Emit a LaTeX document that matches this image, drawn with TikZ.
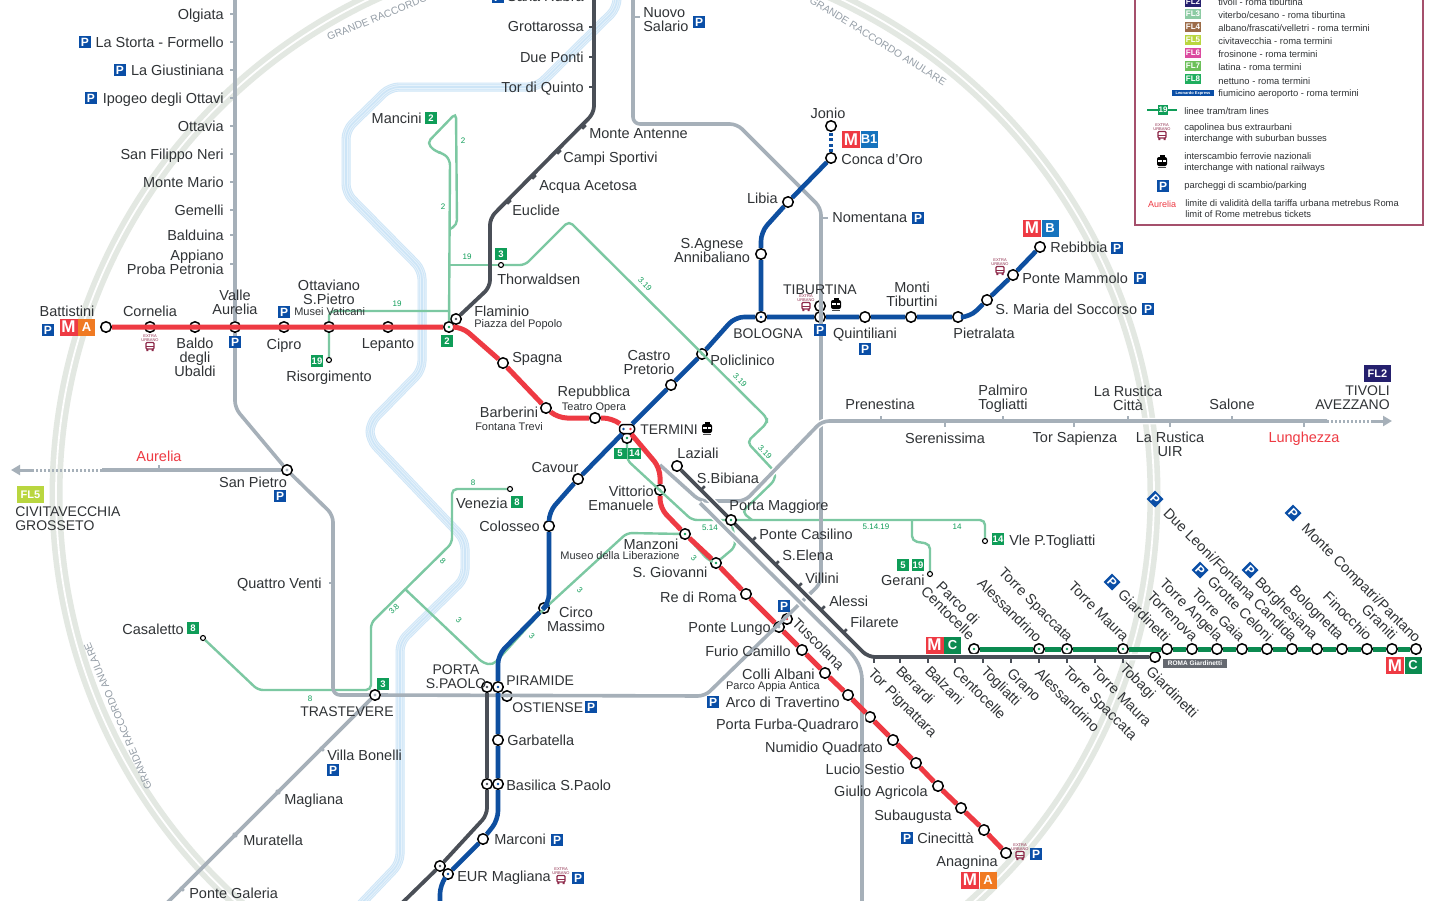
\documentclass[tikz,border=0pt]{standalone}
\usepackage{fontspec}
\setmainfont{Liberation Sans}
\usetikzlibrary{positioning, arrows.meta}
\definecolor{ringcol}{HTML}{E3E8E2}
\definecolor{rivera}{HTML}{CDE5F7}
\definecolor{riverb}{HTML}{E6F2FB}
\definecolor{greycol}{HTML}{A6B0B9}
\definecolor{darkcol}{HTML}{4A4F57}
\definecolor{redcol}{HTML}{EE3A43}
\definecolor{orangecol}{HTML}{F07A22}
\definecolor{bluecol}{HTML}{0E4FA0}
\definecolor{b1col}{HTML}{1573BE}
\definecolor{ccol}{HTML}{0B8A50}
\definecolor{tramcol}{HTML}{7CC8A2}
\definecolor{trambadge}{HTML}{0F9D58}
\definecolor{pcol}{HTML}{0A4EA6}
\definecolor{labcol}{HTML}{303336}
\definecolor{busred}{HTML}{8E2A4A}
\definecolor{legendcol}{HTML}{A5506C}
\definecolor{fltwo}{HTML}{25206E}
\definecolor{flthree}{HTML}{8CCBA3}
\definecolor{flfour}{HTML}{9C6B47}
\definecolor{flfive}{HTML}{B9D63F}
\definecolor{flsix}{HTML}{DB4A9F}
\definecolor{flseven}{HTML}{6CC05A}
\definecolor{fleight}{HTML}{1FAE5E}
\newcommand{\labfont}{\fontsize{14.5}{14}\selectfont}
\newcommand{\capsfont}{\fontsize{14}{14}\selectfont}
\newcommand{\smallfont}{\fontsize{11}{11}\selectfont}
\newcommand{\legfont}{\fontsize{9.4}{11}\selectfont}
\newcommand{\riverpath}{(617,-5) -- (617,8) -- (537,87) -- (390,87) -- (346,130) -- (346,193) -- (422,270) -- (422,370) -- (370,423) -- (370,440) -- (465,540) -- (465,578) -- (400,642) -- (400,863) -- (360,905)}
\begin{document}
\begin{tikzpicture}[x=1pt, y=-1pt, semithick]
    \tikzstyle{stop}=[circle, draw=black, fill=white, line width=1.5pt, minimum size=10.5pt, inner sep=0pt]
    \tikzstyle{dotg}=[path picture={\fill[trambadge] (path picture bounding box.center) circle (1.4pt);}]
    \tikzstyle{dotb}=[path picture={\fill[bluecol] (path picture bounding box.center) circle (1.4pt);}]
    \tikzstyle{dotk}=[path picture={\fill[darkcol] (path picture bounding box.center) circle (1.4pt);}]
    \tikzstyle{dotr}=[path picture={\fill[redcol] (path picture bounding box.center) circle (1.4pt);}]
    \tikzstyle{dotn}=[path picture={\fill[greycol] (path picture bounding box.center) circle (1.6pt);}]
    \tikzstyle{mini}=[circle, draw=black, fill=white, line width=1.1pt, minimum size=5pt, inner sep=0pt]
    \tikzstyle{tickg}=[fill=greycol, minimum width=5pt, minimum height=2.6pt, inner sep=0pt]
    \tikzstyle{tickd}=[fill=darkcol, minimum width=5pt, minimum height=2.6pt, inner sep=0pt]
    \tikzstyle{lab}=[font=\labfont, text=labcol, inner sep=0pt, text height=14pt, text depth=3pt]
    \tikzstyle{lablock}=[font=\labfont, text=labcol, inner sep=0pt, align=center]
    \tikzstyle{labrot}=[lab, rotate=-45]
    \tikzstyle{small}=[font=\smallfont, text=labcol, inner sep=0pt, text height=10pt, text depth=2pt]
    \tikzstyle{redlab}=[lab, text=redcol]
    \tikzstyle{pbox}=[fill=pcol, text=white, font=\fontsize{12}{12}\selectfont\bfseries, minimum size=12pt, inner sep=0pt]
    \tikzstyle{tbox}=[fill=trambadge, text=white, font=\fontsize{9.5}{9.5}\selectfont\bfseries, minimum width=12pt, minimum height=12pt, inner sep=0pt]
    \tikzstyle{tnum}=[text=trambadge, font=\fontsize{8}{8}\selectfont, inner sep=0pt]
    \tikzstyle{mbox}=[fill=redcol, text=white, font=\fontsize{17}{17}\selectfont\bfseries, minimum width=18pt, minimum height=17pt, inner sep=0pt]
    \tikzstyle{lbox}=[text=white, font=\fontsize{13}{13}\selectfont\bfseries, minimum width=17pt, minimum height=17pt, inner sep=0pt]
    \tikzstyle{flbox}=[text=white, font=\fontsize{8}{8}\selectfont\bfseries, minimum width=16pt, minimum height=10pt, inner sep=0pt]
    \tikzstyle{legtxt}=[font=\legfont, text=labcol, inner sep=0pt, anchor=west, align=left]
    \tikzstyle{ringlab}=[font=\fontsize{10.3}{10.3}\selectfont, text=greycol!90!black, inner sep=0pt]
    \tikzstyle{lineg}=[greycol, line width=3.6pt, rounded corners=7pt]
    \tikzstyle{cased}=[preaction={draw=white, line width=6.5pt}]
    \tikzstyle{lined}=[darkcol, line width=3.8pt, rounded corners=7pt]
    \tikzstyle{linea}=[redcol, line width=5pt, rounded corners=9pt]
    \tikzstyle{lineb}=[bluecol, line width=4.6pt, rounded corners=9pt]
    \tikzstyle{linec}=[ccol, line width=5pt]
    \tikzstyle{tram}=[tramcol, line width=2.4pt, rounded corners=5pt]
    \tikzset{
      busicon/.pic={
        \node[font=\fontsize{4}{4}\selectfont, text=busred, align=center, inner sep=0pt] (-txt) at (0,-5.5) {EXTRA\\URBANO};
        \draw[busred, line width=1.1pt, rounded corners=1pt] (-4,-1.5) rectangle (4,5);
        \draw[busred, line width=1pt] (-4,2) -- (4,2);
        \fill[busred] (-3.6,5) rectangle (-1.6,7) (1.6,5) rectangle (3.6,7);
      },
      trainicon/.pic={
        \fill[black, rounded corners=2pt] (-5,-4) rectangle (5,5);
        \fill[black] (-2.5,-6) rectangle (2.5,-4);
        \fill[white] (-3.6,-1.5) rectangle (3.6,1);
        \fill[black] (-0.5,-1.5) rectangle (0.5,1);
        \fill[black!70] (-3.8,6) rectangle (3.8,7);
      }
    }
    \useasboundingbox (0,0) rectangle (1440,900);
    \clip (0,0) rectangle (1440,900);
    \fill[white] (0,0) rectangle (1440,900);

    % ring road and river
    \draw[ringcol, line width=13pt] (605,495) circle (549);
    \draw[white, line width=1.8pt] (605,495) circle (549);
    \node[ringlab, rotate=22] (ringa) at (401,8) {GRANDE RACCORDO ANULARE};
    \node[ringlab, rotate=-32] (ringb) at (878,41) {GRANDE RACCORDO ANULARE};
    \node[ringlab, rotate=113] (ringc) at (118,716) {GRANDE RACCORDO ANULARE};
    \foreach \w/\c in {9/rivera, 7.2/riverb, 5.4/rivera, 3.6/riverb, 1.6/rivera}
      \draw[\c, line width=\w pt, rounded corners=9pt] \riverpath;

    % stations of line A
    \node[stop] (battistini) at (106,327) {};
    \node[stop] (cornelia) at (150,327) {};
    \node[stop] (baldo) at (195,327) {};
    \node[stop, dotn] (vaurelia) at (235,327) {};
    \node[stop] (cipro) at (284,327) {};
    \node[stop, dotg] (ottaviano) at (329,327) {};
    \node[stop] (lepanto) at (388,327) {};
    \node[stop, dotg] (flaminio) at (449,327) {};
    \node[stop] (spagna) at (503,363) {};
    \node[stop] (barberini) at (546,408) {};
    \node[stop] (repubblica) at (595,418) {};
    \node[stop, dotg] (vittorio) at (660,490) {};
    \node[stop, dotg] (manzoni) at (685,534) {};
    \node[stop, dotg] (sgiovanni) at (716,563) {};
    \node[stop] (rediroma) at (746,594) {};
    \node[stop, dotn] (pontelungo) at (779,627) {};
    \node[stop] (furio) at (802,650) {};
    \node[stop] (colli) at (825,673) {};
    \node[stop] (arco) at (848,695) {};
    \node[stop] (furba) at (870,717) {};
    \node[stop] (numidio) at (893,740) {};
    \node[stop] (lucio) at (916,763) {};
    \node[stop] (giulio) at (938,786) {};
    \node[stop] (subaugusta) at (961,808) {};
    \node[stop] (cinecitta) at (984,830) {};
    \node[stop] (anagnina) at (1006,853) {};

    % stations of line B
    \node[stop] (rebibbia) at (1040,247) {};
    \node[stop] (mammolo) at (1013,275) {};
    \node[stop] (soccorso) at (987,300) {};
    \node[stop] (pietralata) at (958,317) {};
    \node[stop] (monti) at (911,317) {};
    \node[stop] (quintiliani) at (865,317) {};
    \node[stop, dotb] (tiburtina) at (820,317) {};
    \node[stop, dotn] (tiburtinafs) at (820,306) {};
    \node[stop, dotb] (bologna) at (761,317) {};
    \node[stop, dotg] (policlinico) at (702,354) {};
    \node[stop] (castro) at (671,385) {};
    \node[stop] (cavour) at (578,479) {};
    \node[stop] (colosseo) at (549,526) {};
    \node[stop, dotg] (circo) at (544,608) {};
    \node[stop, dotb] (piramide) at (498,687) {};
    \node[stop, dotn] (ostiense) at (507,696) {};
    \node[stop] (garbatella) at (498,740) {};
    \node[stop, dotb] (basilica) at (498,784) {};
    \node[stop] (marconi) at (483,839) {};
    \node[stop, dotb] (eur) at (448,874) {};
    \node[stop] (agnese) at (761,254) {};
    \node[stop] (libia) at (788,202) {};
    \node[stop] (concadoro) at (831,158) {};
    \node[stop] (jonio) at (831,126) {};

    % stations of line C
    \node[stop, dotg] (parco) at (974,649) {};
    \node[stop, dotg] (alessandrino) at (1039,649) {};
    \node[stop, dotg] (spaccata) at (1067,649) {};
    \node[stop, dotg] (maura) at (1123,649) {};
    \node[stop] (giardinetti) at (1167,649) {};
    \node[stop] (torrenova) at (1192,649) {};
    \node[stop] (angela) at (1217,649) {};
    \node[stop] (gaia) at (1242,649) {};
    \node[stop] (celoni) at (1267,649) {};
    \node[stop] (candida) at (1292,649) {};
    \node[stop] (borghesiana) at (1317,649) {};
    \node[stop] (bolognetta) at (1342,649) {};
    \node[stop] (finocchio) at (1367,649) {};
    \node[stop] (graniti) at (1392,649) {};
    \node[stop] (compatri) at (1416,649) {};

    % other stations
    \node[stop, dotk] (flaminiorl) at (456,319) {};
    \node[stop, dotn] (sanpietro) at (287,470) {};
    \node[stop, dotn] (trastevere) at (375,695) {};
    \node[stop, dotk] (pspaolo) at (487,687) {};
    \node[stop, dotk] (basilicarl) at (487,784) {};
    \node[stop, dotk] (torvalle) at (440,866) {};
    \node[stop] (laziali) at (677,466) {};
    \node[stop, dotr] (tuscolana) at (787,619) {};
    \node[stop] (giardrl) at (1155,657) {};
    \node[stop, dotg] (terminit) at (627,438) {};
    \node[draw=black, fill=white, line width=1.5pt, rounded corners=3.5pt, minimum width=15pt, minimum height=9pt, inner sep=0pt,
      path picture={\fill[bluecol] (-3.5,0) circle (1.4pt); \fill[redcol] (3.5,0) circle (1.4pt);}] (termini) at (627,429) {};
    \node[mini] (venezia) at (510,489) {};
    \node[mini] (casaletto) at (203,638) {};
    \node[mini] (risorgimento) at (329,360) {};
    \node[mini] (thorwaldsen) at (501,265) {};
    \node[mini] (gerani) at (930,574) {};
    \node[mini] (togliatti) at (985,541) {};

    % free ends and junctions
    \coordinate (vitTop) at (594,-5);
    \coordinate (fl3Top) at (235,-5);
    \coordinate (fl1Top) at (633,-5);
    \coordinate (fl1Bot) at (167,903);
    \coordinate (lidoBot) at (400,905);
    \coordinate (gBot) at (862,905);
    \coordinate (gJoin) at (660,465);
    \coordinate (gStart) at (700,503);
    \coordinate (eurBot) at (440,905);
    \coordinate (awest) at (102,470);
    \coordinate (awestb) at (33,470);
    \coordinate (awestc) at (11,470);
    \coordinate (aeast) at (1327,421);
    \coordinate (aeastb) at (1371,421);
    \coordinate (aeastc) at (1392,421);
    \coordinate (mancinitip) at (456,113);
    \coordinate (j19) at (450,311);
    \coordinate (j3) at (405,589);
    \coordinate (j319) at (752,520);
    \coordinate (j514) at (912,520);
    \coordinate (jlink) at (450,229);
    \coordinate (jthor) at (450,265);
    \coordinate (pmjoint) at (731,520);

    % tram lines
    \draw[tram] (risorgimento) -- (ottaviano) -- (329,311) -- (j19);
    \draw[tram] (flaminio) -- (450,160) -- (443,153) -- (436,152) -- (427,143) -- (mancinitip) -- (457,225) -- (jlink);
    \draw[tram] (jthor) -- (thorwaldsen);
    \draw[tram] (thorwaldsen) -- (525,265) -- (569,221) -- (767,418) -- (767,423) -- (747,442) -- (775,472) -- (775,480) -- (742,512) -- (j319);
    \draw[tram] (terminit) -- (627,460) -- (692,520) -- (pmjoint) -- (985,520) -- (togliatti);
    \draw[tram] (j514) -- (912,541) -- (930,544) -- (gerani);
    \draw[tram] (venezia) -- (452,489) -- (452,543) -- (371,623) -- (371,690) -- (258,690) -- (casaletto);
    \draw[tram] (j3) -- (483,663) -- (493,665) -- (543,610) -- (627,533) -- (manzoni);
    \draw[tram] (manzoni) -- (708,560) -- (sgiovanni);
    \draw[tram] (sgiovanni) -- (735,547) -- (735,540) -- (pmjoint);

    % railways
    \draw[lineg] (fl3Top) -- (vaurelia) -- (235,408) -- (sanpietro) -- (333,515) -- (333,695) -- (trastevere);
    \draw[lineg] (fl1Top) -- (633,124) -- (737,124) -- (821,208) -- (821,583) -- (705,696) -- (trastevere);
    \draw[lineg] (trastevere) -- (fl1Bot);
    \draw[lineg, cased] (aeast) -- (822,421) -- (745,501) -- (700,501) -- (gJoin);
    \draw[lineg, cased] (gStart) -- (855,657) -- (862,672) -- (gBot);
    \draw[lineg, line width=3pt, dash pattern=on 2pt off 2pt] (aeast) -- (aeastb);
    \draw[lineg, -{Triangle[length=9pt,width=10pt]}, line width=3pt] (aeastb) -- (aeastc);
    \draw[lineg] (sanpietro) -- (awest);
    \draw[lineg, line width=3pt, dash pattern=on 2pt off 2pt] (awest) -- (awestb);
    \draw[lineg, -{Triangle[length=9pt,width=10pt]}, line width=3pt] (awestb) -- (awestc);
    \draw[lined] (vitTop) -- (594,113) -- (490,218) -- (490,287) -- (flaminiorl);
    \draw[lined] (pspaolo) -- (basilicarl) -- (487,815) -- (torvalle) -- (lidoBot);
    \draw[lined, cased] (laziali) -- (868,657) -- (giardrl);

    % metro lines
    \draw[linea] (battistini) -- (flaminio) -- (462,327) -- (spagna) -- (barberini) -- (558,418) -- (repubblica) -- (612,418) -- (termini);
    \draw[linea] (termini) -- (660,468) -- (vittorio) -- (660,508) -- (manzoni) -- (sgiovanni) -- (rediroma) -- (pontelungo) -- (furio) -- (colli) -- (arco) -- (furba) -- (numidio) -- (lucio) -- (giulio) -- (subaugusta) -- (cinecitta) -- (anagnina);
    \draw[lineb] (rebibbia) -- (mammolo) -- (soccorso) -- (970,317) -- (pietralata) -- (monti) -- (quintiliani) -- (tiburtina) -- (bologna) -- (735,317) -- (policlinico) -- (castro) -- (termini);
    \draw[lineb] (termini) -- (cavour) -- (549,512) -- (colosseo) -- (549,603) -- (circo) -- (498,655) -- (piramide) -- (garbatella) -- (basilica) -- (498,820) -- (marconi) -- (eur) -- (440,885) -- (eurBot);
    \draw[lineb] (bologna) -- (agnese) -- (761,232) -- (libia) -- (concadoro);
    \draw[lineb, dash pattern=on 3pt off 2.5pt, line width=3.6pt] (concadoro) -- (jonio);
    \draw[linec] (parco) -- (alessandrino) -- (spaccata) -- (maura) -- (giardinetti) -- (torrenova) -- (angela) -- (gaia) -- (celoni) -- (candida) -- (borghesiana) -- (bolognetta) -- (finocchio) -- (graniti) -- (compatri);

    % Porta Maggiore on top of the lines
    \node[stop, dotg] (pmaggiore) at (731,520) {};

    % ticks
    \node[tickg] (olgiata) at (232,14) {};
    \node[tickg] (storta) at (232,42) {};
    \node[tickg] (giustiniana) at (232,70) {};
    \node[tickg] (ipogeo) at (232,98) {};
    \node[tickg] (ottavia) at (232,126) {};
    \node[tickg] (filippo) at (232,154) {};
    \node[tickg] (mario) at (232,182) {};
    \node[tickg] (gemelli) at (232,210) {};
    \node[tickg] (balduina) at (232,235) {};
    \node[tickg] (appiano) at (232,264) {};
    \node[tickg] (salario) at (637,17) {};
    \node[tickg] (nomentana) at (825,218) {};
    \node[tickg] (quattro) at (331,583) {};
    \node[tickg, rotate=90] (aurelia) at (159,467) {};
    \node[tickg, rotate=-45] (bonelli) at (322,749) {};
    \node[tickg, rotate=-45] (magliana) at (278,792) {};
    \node[tickg, rotate=-45] (muratella) at (235,835) {};
    \node[tickg, rotate=-45] (galeria) at (182,889) {};
    \node[tickg, rotate=90] (prenestina) at (881,418) {};
    \node[tickg, rotate=90] (serenissima) at (945,424) {};
    \node[tickg, rotate=90] (palmiro) at (1003,418) {};
    \node[tickg, rotate=90] (sapienza) at (1074,424) {};
    \node[tickg, rotate=90] (citta) at (1128,418) {};
    \node[tickg, rotate=90] (uir) at (1170,424) {};
    \node[tickg, rotate=90] (salone) at (1232,418) {};
    \node[tickg, rotate=90] (lunghezza) at (1304,424) {};
    \node[tickd] (grottarossa) at (591,27) {};
    \node[tickd] (dueponti) at (591,57) {};
    \node[tickd] (quinto) at (591,87) {};
    \node[tickd, rotate=45] (antenne) at (584,127) {};
    \node[tickd, rotate=45] (sportivi) at (559,152) {};
    \node[tickd, rotate=45] (acetosa) at (534,177) {};
    \node[tickd, rotate=45] (euclide) at (509,202) {};
    \node[tickd, rotate=45] (bibiana) at (703,488) {};
    \node[tickd, rotate=45] (casilino) at (754,539) {};
    \node[tickd, rotate=45] (selena) at (777,563) {};
    \node[tickd, rotate=45] (villini) at (800,585) {};
    \node[tickd, rotate=45] (alessi) at (823,608) {};
    \node[tickd, rotate=45] (filarete) at (845,631) {};
    \node[tickd, rotate=90] (pignattara) at (874,660) {};
    \node[tickd, rotate=90] (berardi) at (900,660) {};
    \node[tickd, rotate=90] (balzani) at (928,660) {};
    \node[tickd, rotate=90] (centocelle) at (955,660) {};
    \node[tickd, rotate=90] (togliattirl) at (983,660) {};
    \node[tickd, rotate=90] (grano) at (1011,660) {};
    \node[tickd, rotate=90] (alessrl) at (1039,660) {};
    \node[tickd, rotate=90] (spaccrl) at (1067,660) {};
    \node[tickd, rotate=90] (maurarl) at (1095,660) {};
    \node[tickd, rotate=90] (tobagi) at (1123,660) {};

    % labels, line A
    \node[lab] (lbattistini) at (67,311) {Battistini};
    \node[pbox] (pbattistini) at (48,330) {P};
    \node[mbox] (mbattistini) at (68.5,327) {M};
    \node[lbox, fill=orangecol, right=0pt of mbattistini] (abattistini) {A};
    \node[lab] (lcornelia) at (150,311) {Cornelia};
    \pic (bcornelia) at (150,344) {busicon};
    \node[lablock] (lbaldo) at (195,357) {Baldo\\degli\\Ubaldi};
    \node[lablock] (lvaurelia) at (235,302) {Valle\\Aurelia};
    \node[pbox] (pvaurelia) at (235,342) {P};
    \node[lab] (lcipro) at (284,344) {Cipro};
    \node[lablock] (lottaviano) at (329,292) {Ottaviano\\S.Pietro};
    \node[small, anchor=west] (lmusei) at (294,311) {Musei Vaticani};
    \node[pbox] (pmusei) at (284,312) {P};
    \node[lab] (llepanto) at (388,343) {Lepanto};
    \node[lab] (lrisorgimento) at (329,376) {Risorgimento};
    \node[tbox] (trisorgimento) at (317,361) {19};
    \node[tbox] (tflaminio) at (447,341) {2};
    \node[lab, anchor=west] (lflaminio) at (474,311) {Flaminio};
    \node[small, anchor=west] (lpopolo) at (474,323) {Piazza del Popolo};
    \node[lab, anchor=west] (lspagna) at (512,357) {Spagna};
    \node[lab] (lrepubblica) at (594,391) {Repubblica};
    \node[small] (lopera) at (594,406) {Teatro Opera};
    \node[lab] (lbarberini) at (509,412) {Barberini};
    \node[small] (ltrevi) at (509,426) {Fontana Trevi};
    \node[lab, anchor=west, font=\capsfont] (ltermini) at (640,429) {TERMINI};
    \pic (ttermini) at (707,428) {trainicon};
    \node[tbox, minimum width=13pt, minimum height=11pt] (tcinque) at (620,453) {5};
    \node[tbox, minimum width=13pt, minimum height=11pt] (tquattordici) at (634.5,453) {14};
    \node[lablock, align=right, anchor=east] (lvittorio) at (654,498) {Vittorio\\Emanuele};
    \node[lab] (lmanzoni) at (651,544) {Manzoni};
    \node[small] (lmuseo) at (620,555) {Museo della Liberazione};
    \node[lab] (lsgiovanni) at (670,572) {S. Giovanni};
    \node[lab, anchor=east] (lrediroma) at (737,597) {Re di Roma};
    \node[lab, anchor=east] (lpontelungo) at (771,627) {Ponte Lungo};
    \node[pbox] (ppontelungo) at (784,606) {P};
    \node[labrot, anchor=west] (ltuscolana) at (795,620) {Tuscolana};
    \node[lab, anchor=east] (lfurio) at (791,651) {Furio Camillo};
    \node[lab, anchor=east] (lcolli) at (815,674) {Colli Albani};
    \node[small, anchor=east] (lappia) at (820,685) {Parco Appia Antica};
    \node[lab, anchor=east] (larco) at (840,702) {Arco di Travertino};
    \node[pbox] (parco2) at (713,702) {P};
    \node[lab, anchor=east] (lfurba) at (859,724) {Porta Furba-Quadraro};
    \node[lab, anchor=east] (lnumidio) at (883,747) {Numidio Quadrato};
    \node[lab, anchor=east] (llucio) at (905,769) {Lucio Sestio};
    \node[lab, anchor=east] (lgiulio) at (928,791) {Giulio Agricola};
    \node[lab, anchor=east] (lsubaugusta) at (952,815) {Subaugusta};
    \node[lab, anchor=east] (lcinecitta) at (974,838) {Cinecittà};
    \node[pbox] (pcinecitta) at (907,838) {P};
    \node[lab, anchor=east] (lanagnina) at (998,861) {Anagnina};
    \pic (banagnina) at (1020,853) {busicon};
    \node[pbox] (panagnina) at (1036,854) {P};
    \node[mbox] (managnina) at (970,880) {M};
    \node[lbox, fill=orangecol, right=0pt of managnina] (aanagnina) {A};

    % labels, line B
    \node[lab, right=4pt of rebibbia] (lrebibbia) {Rebibbia};
    \node[pbox] (prebibbia) at (1117,248) {P};
    \node[mbox] (mrebibbia) at (1032,228) {M};
    \node[lbox, fill=b1col, right=0pt of mrebibbia] (brebibbia) {B};
    \node[lab, anchor=west] (lmammolo) at (1022,278) {Ponte Mammolo};
    \node[pbox] (pmammolo) at (1140,278) {P};
    \pic (bmammolo) at (1000,268) {busicon};
    \node[lab, anchor=west] (lsoccorso) at (995,309) {S. Maria del Soccorso};
    \node[pbox] (psoccorso) at (1148,309) {P};
    \node[lab] (lpietralata) at (984,333) {Pietralata};
    \node[lablock] (lmonti) at (912,294) {Monti\\Tiburtini};
    \node[lab] (lquintiliani) at (865,333) {Quintiliani};
    \node[pbox] (pquintiliani) at (865,349) {P};
    \node[lab, font=\capsfont] (ltiburtina) at (820,289) {TIBURTINA};
    \pic (btiburtina) at (806,304) {busicon};
    \pic (ttiburtina) at (836,304) {trainicon};
    \node[pbox] (ptiburtina) at (820,330) {P};
    \node[lab, font=\capsfont] (lbologna) at (768,333) {BOLOGNA};
    \node[lablock] (lagnese) at (712,251) {S.Agnese\\Annibaliano};
    \node[lab, anchor=east] (llibia) at (778,198) {Libia};
    \node[lab, anchor=west] (lconcadoro) at (841,159) {Conca d’Oro};
    \node[lab] (ljonio) at (828,113) {Jonio};
    \node[mbox] (mjonio) at (851,139.5) {M};
    \node[lbox, fill=b1col, right=0pt of mjonio] (bjonio) {B1};
    \node[lab, anchor=west] (lpoliclinico) at (710,360) {Policlinico};
    \node[lablock] (lcastro) at (649,363) {Castro\\Pretorio};
    \node[lab] (lcavour) at (555,467) {Cavour};
    \node[lab, left=3pt of colosseo] (lcolosseo) {Colosseo};
    \node[lablock] (lcirco) at (576,619) {Circo\\Massimo};
    \node[lab, anchor=west, font=\capsfont] (lpiramide) at (506,680) {PIRAMIDE};
    \node[lablock, font=\capsfont] (lpspaolo) at (456,677) {PORTA\\S.PAOLO};
    \node[lab, anchor=west, font=\capsfont] (lostiense) at (512,707) {OSTIENSE};
    \node[pbox] (postiense) at (591,707) {P};
    \node[lab, right=3pt of garbatella] (lgarbatella) {Garbatella};
    \node[lab, anchor=west] (lbasilica) at (506,785) {Basilica S.Paolo};
    \node[lab, right=5pt of marconi] (lmarconi) {Marconi};
    \node[pbox] (pmarconi) at (557,840) {P};
    \node[lab, anchor=west] (leur) at (457,876) {EUR Magliana};
    \pic (beur) at (561,877) {busicon};
    \node[pbox] (peur) at (578,878) {P};

    % labels, line C
    \node[lablock, rotate=-45] (lparco) at (953,608) {Parco di\\Centocelle};
    \node[labrot, anchor=east] (lalessandrino) at (1040,640) {Alessandrino};
    \node[labrot, anchor=east] (lspaccata) at (1071,639) {Torre Spaccata};
    \node[labrot, anchor=east] (lmaura) at (1127,639) {Torre Maura};
    \node[labrot, anchor=east] (lgiardinetti) at (1168,639) {Giardinetti};
    \node[labrot, anchor=east] (ltorrenova) at (1196,639) {Torrenova};
    \node[labrot, anchor=east] (langela) at (1221,639) {Torre Angela};
    \node[labrot, anchor=east] (lgaia) at (1243,639) {Torre Gaia};
    \node[labrot, anchor=east] (lceloni) at (1271,639) {Grotte Celoni};
    \node[labrot, anchor=east] (lcandida) at (1295,639) {Due Leoni/Fontana Candida};
    \node[labrot, anchor=east] (lborghesiana) at (1316,637) {Borghesiana};
    \node[labrot, anchor=east] (lbolognetta) at (1342,637) {Bolognetta};
    \node[labrot, anchor=east] (lfinocchio) at (1370,638) {Finocchio};
    \node[labrot, anchor=east] (lgraniti) at (1395,637) {Graniti};
    \node[labrot, anchor=east] (lcompatri) at (1419,640) {Monte Compatri/Pantano};
    \node[pbox, rotate=-45] (pgiardinetti) at (1112,582) {P};
    \node[pbox, rotate=-45] (pceloni) at (1200,570) {P};
    \node[pbox, rotate=-45] (pcandida) at (1155,499) {P};
    \node[pbox, rotate=-45] (pborghesiana) at (1250,570) {P};
    \node[pbox, rotate=-45] (pcompatri) at (1293,513) {P};
    \node[mbox] (mparco) at (934.5,645) {M};
    \node[lbox, fill=ccol, right=0pt of mparco] (cparco) {C};
    \node[mbox] (mcompatri) at (1395,665.5) {M};
    \node[lbox, fill=ccol, right=0pt of mcompatri] (ccompatri) {C};

    % labels, Giardinetti railway
    \node[labrot, anchor=west] (lpignattara) at (871,670) {Tor Pignattara};
    \node[labrot, anchor=west] (lberardi) at (899,668) {Berardi};
    \node[labrot, anchor=west] (lbalzani) at (928,668) {Balzani};
    \node[labrot, anchor=west] (lcentocelle) at (955,668) {Centocelle};
    \node[labrot, anchor=west] (ltogliattirl) at (984,668) {Togliatti};
    \node[labrot, anchor=west] (lgrano) at (1010,670) {Grano};
    \node[labrot, anchor=west] (lalessrl) at (1038,670) {Alessandrino};
    \node[labrot, anchor=west] (lspaccrl) at (1066,668) {Torre Spaccata};
    \node[labrot, anchor=west] (lmaurarl) at (1094,668) {Torre Maura};
    \node[labrot, anchor=west] (ltobagi) at (1123,665) {Tobagi};
    \node[labrot, anchor=west] (lgiardrl) at (1149,668) {Giardinetti};
    \node[fill=darkcol!85, text=white, font=\fontsize{6.5}{7}\selectfont\bfseries, minimum width=64pt, minimum height=9pt, inner sep=0pt] (rlgiard) at (1195,663.5) {ROMA Giardinetti};
    \node[lab] (llaziali) at (698,453) {Laziali};
    \node[lab] (lbibiana) at (728,478) {S.Bibiana};
    \node[lab] (lpmaggiore) at (779,505) {Porta Maggiore};
    \node[lab, anchor=west] (lcasilino) at (759,534) {Ponte Casilino};
    \node[lab, anchor=west] (lselena) at (782,555) {S.Elena};
    \node[lab, anchor=west] (lvillini) at (805,578) {Villini};
    \node[lab, anchor=west] (lalessi) at (829,601) {Alessi};
    \node[lab, anchor=west] (lfilarete) at (850,622) {Filarete};

    % labels, north west railway
    \node[lab, anchor=east] (lolgiata) at (224,14) {Olgiata};
    \node[lab, anchor=east] (lstorta) at (224,42) {La Storta - Formello};
    \node[pbox] (pstorta) at (85,42) {P};
    \node[lab, anchor=east] (lgiustiniana) at (224,70) {La Giustiniana};
    \node[pbox] (pgiustiniana) at (120,70) {P};
    \node[lab, anchor=east] (lipogeo) at (224,98) {Ipogeo degli Ottavi};
    \node[pbox] (pipogeo) at (91,98) {P};
    \node[lab, anchor=east] (lottavia) at (224,126) {Ottavia};
    \node[lab, anchor=east] (lfilippo) at (224,154) {San Filippo Neri};
    \node[lab, anchor=east] (lmario) at (224,182) {Monte Mario};
    \node[lab, anchor=east] (lgemelli) at (224,210) {Gemelli};
    \node[lab, anchor=east] (lbalduina) at (224,235) {Balduina};
    \node[lablock, align=right, anchor=east] (lappiano) at (224,262) {Appiano\\Proba Petronia};

    % labels, north railways and tram
    \node[lab, anchor=east] (lsaxa) at (584,-4) {Saxa Rubra};
    \node[pbox] (psaxa) at (498,-3) {P};
    \node[lab, anchor=east] (lgrottarossa) at (584,26) {Grottarossa};
    \node[lab, anchor=east] (ldueponti) at (584,57) {Due Ponti};
    \node[lab, anchor=east] (lquinto) at (584,87) {Tor di Quinto};
    \node[lab, anchor=west] (lantenne) at (589,133) {Monte Antenne};
    \node[lab, anchor=west] (lsportivi) at (563,157) {Campi Sportivi};
    \node[lab, anchor=west] (lacetosa) at (539,185) {Acqua Acetosa};
    \node[lab, anchor=west] (leuclide) at (512,210) {Euclide};
    \node[lab, anchor=west] (lthorwaldsen) at (497,279) {Thorwaldsen};
    \node[tbox] (tthorwaldsen) at (501,254) {3};
    \node[lablock, align=left, anchor=west] (lsalario) at (643,20) {Nuovo\\Salario};
    \node[pbox] (psalario) at (699,22) {P};
    \node[lab, anchor=west] (lnomentana) at (832,217) {Nomentana};
    \node[pbox] (pnomentana) at (918,218) {P};
    \node[lab, anchor=east] (lmancini) at (422,118) {Mancini};
    \node[tbox] (tmancini) at (431,118) {2};
    \node[lab, anchor=east] (lvenezia) at (508,503) {Venezia};
    \node[tbox] (tvenezia) at (517,502) {8};
    \node[lab, anchor=east] (lcasaletto) at (184,629) {Casaletto};
    \node[tbox] (tcasaletto) at (193,628) {8};
    \node[lab, anchor=west] (lvle) at (1009,540) {Vle P.Togliatti};
    \node[tbox] (tvle) at (998,539) {14};
    \node[lab, anchor=east] (lgerani) at (925,580) {Gerani};
    \node[tbox] (tgcinque) at (903,565) {5};
    \node[tbox] (tgdiciannove) at (918,565) {19};

    % labels, west and south
    \node[lab] (lsanpietro) at (253,482) {San Pietro};
    \node[pbox] (psanpietro) at (280,496) {P};
    \node[redlab] (laurelia) at (159,456) {Aurelia};
    \node[flbox, fill=flfive, font=\fontsize{11}{11}\selectfont\bfseries, minimum width=27pt, minimum height=17pt] (flcinque) at (30.5,494.5) {FL5};
    \node[lablock, align=left, anchor=west, font=\capsfont] (lcivita) at (15,519) {CIVITAVECCHIA\\GROSSETO};
    \node[lab, anchor=east] (lquattro) at (322,583) {Quattro Venti};
    \node[tbox] (ttrastevere) at (383,684) {3};
    \node[lab, font=\capsfont] (ltrastevere) at (347,711) {TRASTEVERE};
    \node[lab, anchor=west] (lbonelli) at (327,755) {Villa Bonelli};
    \node[pbox] (pbonelli) at (333,770) {P};
    \node[lab, anchor=west] (lmagliana) at (284,799) {Magliana};
    \node[lab, anchor=west] (lmuratella) at (243,840) {Muratella};
    \node[lab, anchor=west] (lgaleria) at (189,893) {Ponte Galeria};

    % labels, east railway
    \node[lab] (lprenestina) at (880,404) {Prenestina};
    \node[lab] (lserenissima) at (945,438) {Serenissima};
    \node[lablock] (lpalmiro) at (1003,399) {Palmiro\\Togliatti};
    \node[lab] (lsapienza) at (1075,437) {Tor Sapienza};
    \node[lablock] (lcitta) at (1128,398) {La Rustica\\Città};
    \node[lablock] (luir) at (1170,444) {La Rustica\\UIR};
    \node[lab] (lsalone) at (1232,404) {Salone};
    \node[redlab] (llunghezza) at (1304,437) {Lunghezza};
    \node[lablock, align=right, anchor=east, font=\capsfont] (ltivoli) at (1390,398) {TIVOLI\\AVEZZANO};
    \node[flbox, fill=fltwo, font=\fontsize{11}{11}\selectfont\bfseries, minimum width=27pt, minimum height=17pt] (fldue) at (1377.5,373.5) {FL2};

    % tram numbers
    \node[tnum] (na) at (463,141) {2};
    \node[tnum] (nb) at (443,207) {2};
    \node[tnum] (nc) at (467,257) {19};
    \node[tnum] (nd) at (397,304) {19};
    \node[tnum, rotate=-45] (ne) at (645,284) {3.19};
    \node[tnum, rotate=-45] (nf) at (740,380) {3.19};
    \node[tnum, rotate=-45] (ng) at (765,452) {3.19};
    \node[tnum] (nh) at (710,528) {5.14};
    \node[tnum] (ni) at (876,527) {5.14.19};
    \node[tnum] (nj) at (957,527) {14};
    \node[tnum] (nk) at (473,483) {8};
    \node[tnum, rotate=-45] (nl) at (443,561) {8};
    \node[tnum, rotate=45] (nm) at (394,609) {3.8};
    \node[tnum, rotate=-45] (nn) at (459,620) {3};
    \node[tnum, rotate=-45] (no) at (580,590) {3};
    \node[tnum, rotate=-45] (np) at (532,636) {3};
    \node[tnum, rotate=-45] (nq) at (694,558) {3};
    \node[tnum] (nr) at (310,699) {8};

    % legend
    \draw[legendcol, fill=white, line width=1.2pt] (1135,-5) rectangle (1423,225);
    \node[flbox, fill=fltwo] (lega) at (1193,2) {FL2};
    \node[flbox, fill=flthree] (legb) at (1193,14) {FL3};
    \node[flbox, fill=flfour] (legc) at (1193,27) {FL4};
    \node[flbox, fill=flfive] (legd) at (1193,40) {FL5};
    \node[flbox, fill=flsix] (lege) at (1193,53) {FL6};
    \node[flbox, fill=flseven] (legf) at (1193,66) {FL7};
    \node[flbox, fill=fleight] (legg) at (1193,79) {FL8};
    \node[fill=pcol, text=white, font=\fontsize{4}{4}\selectfont\bfseries, minimum width=42pt, minimum height=6pt, inner sep=0pt] (legh) at (1193,93) {Leonardo Express};
    \node[legtxt] (tega) at (1218,2) {tivoli - roma tiburtina};
    \node[legtxt] (tegb) at (1218,15) {viterbo/cesano - roma tiburtina};
    \node[legtxt] (tegc) at (1218,28) {albano/frascati/velletri - roma termini};
    \node[legtxt] (tegd) at (1218,41) {civitavecchia - roma termini};
    \node[legtxt] (tege) at (1218,54) {frosinone - roma termini};
    \node[legtxt] (tegf) at (1218,67) {latina - roma termini};
    \node[legtxt] (tegg) at (1218,81) {nettuno - roma termini};
    \node[legtxt] (tegh) at (1218,94) {fiumicino aeroporto - roma termini};
    \coordinate (lega1) at (1147,110);
    \coordinate (lega2) at (1177,110);
    \draw[trambadge, line width=1.3pt] (lega1) -- (lega2);
    \node[tbox, minimum width=10pt, minimum height=10pt, font=\fontsize{8}{8}\selectfont\bfseries] (legi) at (1163,110) {19};
    \node[legtxt] (tegi) at (1184,111) {linee tram/tram lines};
    \pic (legj) at (1162,133) {busicon};
    \node[legtxt] (tegj) at (1184,133.5) {capolinea bus extraurbani\\interchange with suburban busses};
    \pic (legk) at (1162,161) {trainicon};
    \node[legtxt] (tegk) at (1184,162.5) {interscambio ferrovie nazionali\\interchange with national railways};
    \node[pbox] (legl) at (1163,186) {P};
    \node[legtxt] (tegl) at (1184,186) {parcheggi di scambio/parking};
    \node[font=\fontsize{9}{9}\selectfont, text=redcol, inner sep=0pt] (legm) at (1162,204) {Aurelia};
    \node[legtxt] (tegm) at (1185,208.5) {limite di validità della tariffa urbana metrebus Roma\\limit of Rome metrebus tickets};
\end{tikzpicture}
\end{document}
